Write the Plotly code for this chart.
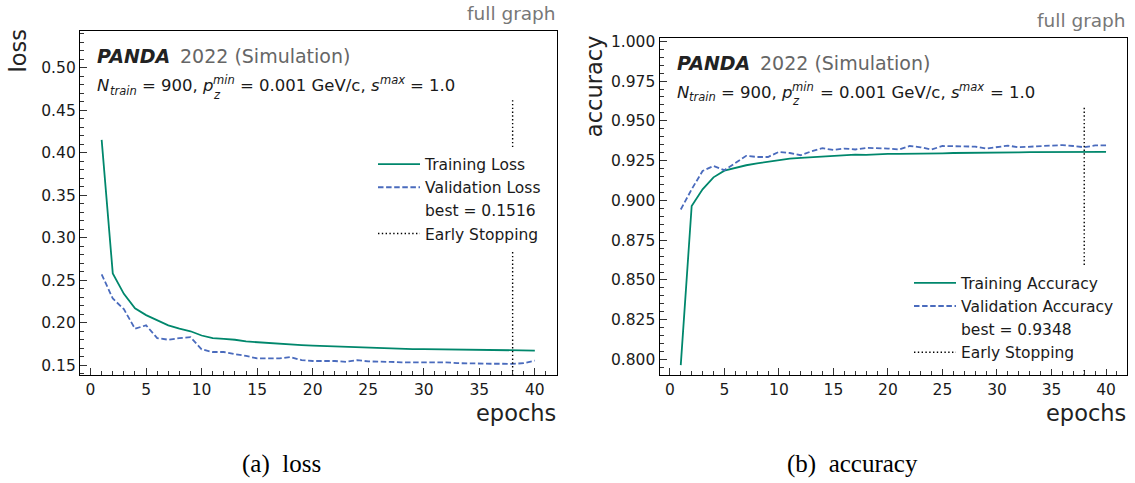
import plotly.graph_objects as go

W, H = 1135, 483

# ---- data ----
epochs = list(range(1, 41))

train_loss = [0.415, 0.258, 0.234, 0.217, 0.209, 0.203, 0.197, 0.193, 0.190, 0.185,
              0.182, 0.181, 0.180, 0.178, 0.177, 0.176, 0.175, 0.1745, 0.1737, 0.173,
              0.1725, 0.172, 0.1715, 0.171, 0.1705, 0.170, 0.170, 0.1695, 0.169, 0.169,
              0.1688, 0.1685, 0.1683, 0.168, 0.168, 0.1678, 0.1677, 0.1675, 0.1675, 0.1673]
val_loss = [0.257, 0.2285, 0.216, 0.193, 0.197, 0.182, 0.180, 0.182, 0.183, 0.1687,
            0.1656, 0.1656, 0.163, 0.161, 0.158, 0.158, 0.158, 0.1597, 0.156, 0.155,
            0.155, 0.155, 0.154, 0.156, 0.1545, 0.1545, 0.154, 0.1535, 0.1535, 0.153,
            0.153, 0.1535, 0.1525, 0.152, 0.1518, 0.1518, 0.1518, 0.1516, 0.1525, 0.1555]

train_acc = [0.7965, 0.8965, 0.907, 0.9145, 0.9187, 0.9206, 0.9221, 0.9233, 0.9242, 0.9252,
             0.9263, 0.9267, 0.9271, 0.9277, 0.9282, 0.9284, 0.9288, 0.9286, 0.929, 0.9292,
             0.9292, 0.9292, 0.9294, 0.9296, 0.9296, 0.9298, 0.9298, 0.930, 0.930, 0.930,
             0.9302, 0.9302, 0.9303, 0.9303, 0.9304, 0.9305, 0.9305, 0.9303, 0.9305, 0.9305]
val_acc = [0.8943, 0.907, 0.9185, 0.9216, 0.919, 0.9233, 0.928, 0.9273, 0.9273, 0.9305,
           0.9298, 0.9284, 0.9309, 0.9328, 0.9317, 0.9326, 0.932, 0.933, 0.933, 0.9326,
           0.932, 0.9342, 0.9334, 0.932, 0.9342, 0.9342, 0.9342, 0.9338, 0.9326, 0.9334,
           0.9344, 0.9334, 0.9338, 0.9338, 0.9342, 0.9348, 0.9342, 0.9334, 0.9346, 0.9346]

best_loss = 0.1516
best_acc = 0.9348
early_stop_epoch = 38

loss_ticks = [0.15, 0.20, 0.25, 0.30, 0.35, 0.40, 0.45, 0.50]
acc_ticks = [0.800, 0.825, 0.850, 0.875, 0.900, 0.925, 0.950, 0.975, 1.000]
epoch_ticks = [0, 5, 10, 15, 20, 25, 30, 35, 40]

loss_range = [0.1384, 0.5426]
acc_range = [0.7902, 1.0021]
epoch_range = [-0.95, 41.95]

# ---- style ----
GREEN = "#00876c"
BLUE = "#4a6bbd"
FONT = "DejaVu Sans"
TXT = "#1a1a1a"


def px(x):
    return x / W


def py(y):
    return 1 - y / H


fig = go.Figure()


def add_panel(xa, ya, leg, train, val, tname, vname, best, yr):
    fig.add_trace(go.Scatter(x=epochs, y=train, mode="lines", name=tname,
                             line=dict(color=GREEN, width=1.8),
                             xaxis=xa, yaxis=ya, legend=leg))
    fig.add_trace(go.Scatter(x=epochs, y=val, mode="lines", name=vname,
                             line=dict(color=BLUE, width=1.8, dash="5.5px,2.6px"),
                             xaxis=xa, yaxis=ya, legend=leg))
    fig.add_trace(go.Scatter(x=[None], y=[None], mode="lines", name=f"best = {best}",
                             line=dict(color="rgba(0,0,0,0)", width=0),
                             xaxis=xa, yaxis=ya, legend=leg))
    # early-stopping marker spans the lower 80 % of the axis height
    top = yr[0] + 0.8 * (yr[1] - yr[0])
    fig.add_trace(go.Scatter(x=[early_stop_epoch, early_stop_epoch], y=[yr[0], top],
                             mode="lines", name="Early Stopping",
                             line=dict(color="black", width=1.4, dash="1.4px,2.4px"),
                             xaxis=xa, yaxis=ya, legend=leg))


add_panel("x", "y", "legend", train_loss, val_loss,
          "Training Loss", "Validation Loss", best_loss, loss_range)
add_panel("x2", "y2", "legend2", train_acc, val_acc,
          "Training Accuracy", "Validation Accuracy", best_acc, acc_range)

axis_common = dict(
    showline=True, linecolor="black", linewidth=1.3, mirror=True,
    ticks="inside", ticklen=7, tickwidth=1, tickcolor="#333",
    showgrid=False, zeroline=False,
    tickfont=dict(family=FONT, size=15.5, color=TXT),
)

box_l = dict(x0=80, x1=556.5, y0=26.7, y1=374)
box_r = dict(x0=659.5, x1=1127.3, y0=33.3, y1=374)

legend_common = dict(xanchor="left", yanchor="top", bgcolor="white", borderwidth=0,
                     font=dict(family=FONT, size=15.5, color=TXT),
                     tracegroupgap=0, itemwidth=42)

fig.update_layout(
    width=W, height=H,
    margin=dict(l=0, r=0, t=0, b=0),
    paper_bgcolor="white", plot_bgcolor="white",
    showlegend=True,
    xaxis=dict(domain=[px(box_l["x0"]), px(box_l["x1"])], anchor="y",
               range=epoch_range, tickvals=epoch_ticks,
               minor=dict(dtick=1, ticks="inside", ticklen=4, tickcolor="#333"),
               **axis_common),
    yaxis=dict(domain=[py(box_l["y1"]), py(box_l["y0"])], anchor="x",
               range=loss_range, tickvals=loss_ticks, tickformat=".2f",
               minor=dict(tick0=0, dtick=0.01, ticks="inside", ticklen=4, tickcolor="#333"),
               **axis_common),
    xaxis2=dict(domain=[px(box_r["x0"]), px(box_r["x1"])], anchor="y2",
                range=epoch_range, tickvals=epoch_ticks,
                minor=dict(dtick=1, ticks="inside", ticklen=4, tickcolor="#333"),
                **axis_common),
    yaxis2=dict(domain=[py(box_r["y1"]), py(box_r["y0"])], anchor="x2",
                range=acc_range, tickvals=acc_ticks, tickformat=".3f",
                minor=dict(tick0=0, dtick=0.005, ticks="inside", ticklen=4, tickcolor="#333"),
                **axis_common),
    legend=dict(x=px(373), y=py(144), **legend_common),
    legend2=dict(x=px(909), y=py(264), **legend_common),
)


def text(x, y, s, size, color=TXT, xanchor="left", yanchor="middle", family=FONT, angle=0):
    fig.add_annotation(x=px(x), y=py(y), xref="paper", yref="paper", text=s,
                       showarrow=False, xanchor=xanchor, yanchor=yanchor,
                       textangle=angle, borderpad=0,
                       font=dict(family=family, size=size, color=color))


for box, dy in ((box_l, 0.0), (box_r, 6.6)):
    left = box["x0"] + 16.4
    # experiment header
    text(left, 52 + dy, "<b><i>PANDA</i></b>", 19, color="#222")
    text(left + 82.6, 52 + dy, "2022 (Simulation)", 19, color="#666")
    # training settings; sub- and superscripts are placed as small labels
    base = 81.5 + dy
    fs, ss = 16.5, 11.5
    text(left, base, "<i>N</i>", fs)
    text(left + 12.3, base + 5, "<i>train</i>", ss)
    text(left + 44.4, base, "= 900, <i>p</i>", fs)
    text(left + 115.5, base - 5.5, "<i>min</i>", ss)
    text(left + 115.5, base + 9, "<i>z</i>", ss)
    text(left + 143.0, base, "= 0.001 GeV/c, <i>s</i>", fs)
    text(left + 282.5, base - 5.5, "<i>max</i>", ss)
    text(left + 313.0, base, "= 1.0", fs)
    # corner labels
    text(box["x1"], box["y0"] - 18, "full graph", 18.5, color="#777", xanchor="right")
    text(box["x1"], 412, "epochs", 22.5, color="#222", xanchor="right")

text(18, 47, "loss", 22.5, color="#222", xanchor="center", angle=-90)
text(594, 82, "accuracy", 22.5, color="#222", xanchor="center", angle=-90)

# sub-figure captions
text(281, 464, "(a)&nbsp; loss", 25, color="black", xanchor="center", family="Liberation Serif")
text(852, 464, "(b)&nbsp; accuracy", 25, color="black", xanchor="center", family="Liberation Serif")

fig.write_html("out.html")
